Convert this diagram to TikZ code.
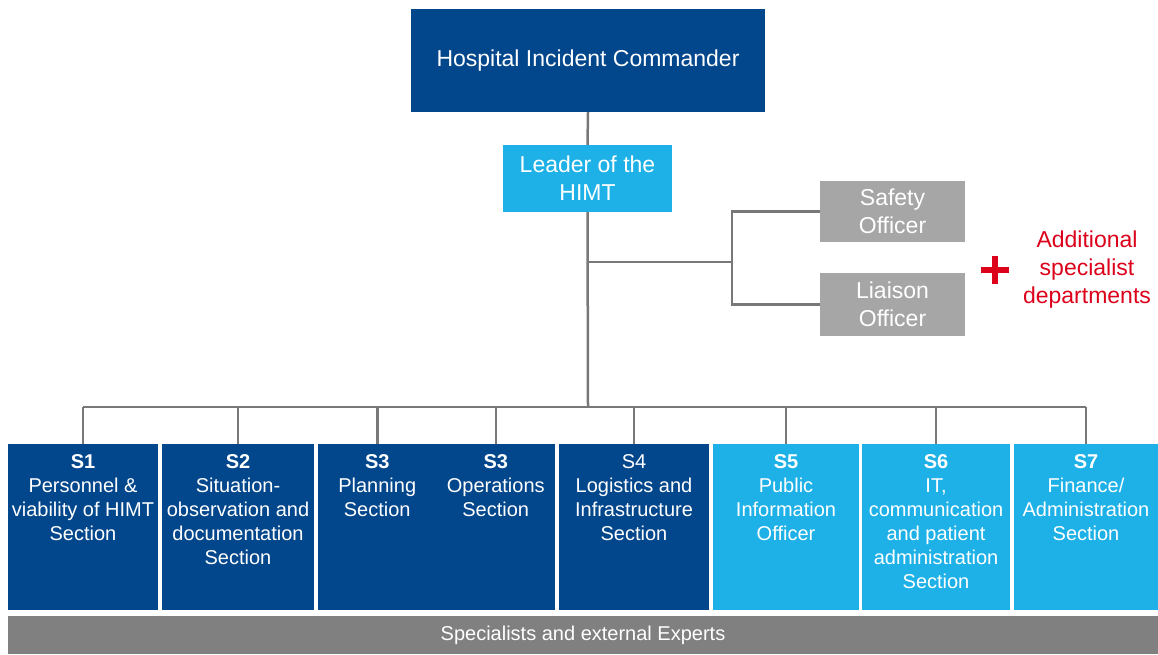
\documentclass[tikz,border=0pt]{standalone}
\usepackage{fontspec}
\setmainfont{Liberation Sans}
\definecolor{dblue}{RGB}{2,70,140}
\definecolor{lblue}{RGB}{29,177,232}
\definecolor{boxgray}{RGB}{166,166,166}
\definecolor{bargray}{RGB}{128,128,128}
\definecolor{linegray}{RGB}{120,120,120}
\definecolor{addred}{RGB}{220,0,26}
\newcommand\secttxt[2]{\parbox[t][166pt][t]{#1}{\centering\vspace*{8pt}\strut #2\par}}
\begin{document}
\begin{tikzpicture}[x=1pt,y=-1pt,
  topbox/.style={fill=#1, text=white, inner sep=0pt, align=center,
    font=\fontsize{23}{28}\selectfont},
  sectbox/.style={fill=#1, text=white, inner sep=0pt,
    font=\fontsize{20}{24}\selectfont},
  conn/.style={draw=linegray, line width=2.5pt}]
\useasboundingbox (0,0) rectangle (1158,654);
% top boxes
\node[topbox=dblue, minimum width=354pt, minimum height=103pt] (hic) at (588,60.5) {Hospital Incident Commander};
\node[topbox=lblue, minimum width=169pt, minimum height=67pt] (lead) at (587.5,178.5) {Leader of the\\HIMT};
\node[topbox=boxgray, minimum width=145pt, minimum height=61pt] (safety) at (892.5,211.5) {Safety\\Officer};
\node[topbox=boxgray, minimum width=145pt, minimum height=63pt] (liaison) at (892.5,304.5) {Liaison\\Officer};
\node[text=addred, align=center, inner sep=0pt, font=\fontsize{23}{28}\selectfont] (add) at (1087,270) {Additional\\specialist\\departments};
% sections
\node[sectbox=dblue] (s1) at (83,527) {\secttxt{150pt}{\textbf{S1}\\Personnel \&\\viability of HIMT\\Section}};
\node[sectbox=dblue] (s2) at (238,527) {\secttxt{152pt}{\textbf{S2}\\Situation-\\observation and\\documentation\\Section}};
\node[sectbox=dblue] (s3a) at (377.25,527) {\secttxt{118.5pt}{\textbf{S3}\\Planning\\Section}};
\node[sectbox=dblue] (s3b) at (495.75,527) {\secttxt{118.5pt}{\textbf{S3}\\Operations\\Section}};
\node[sectbox=dblue] (s4) at (634,527) {\secttxt{150pt}{S4\\Logistics and\\Infrastructure\\Section}};
\node[sectbox=lblue] (s5) at (786,527) {\secttxt{146pt}{\textbf{S5}\\Public\\Information\\Officer}};
\node[sectbox=lblue] (s6) at (936,527) {\secttxt{148pt}{\textbf{S6}\\IT,\\communication\\and patient\\administration\\Section}};
\node[sectbox=lblue] (s7) at (1086,527) {\secttxt{144pt}{\textbf{S7}\\Finance/\\Administration\\Section}};
\node[fill=bargray, text=white, inner sep=0pt, minimum width=1150pt, minimum height=38pt,
  font=\fontsize{20}{24}\selectfont] (bar) at (583,635) {Specialists and external Experts};
% connectors
\coordinate (bus) at (588,407);
\coordinate (brk) at (732,262);
\draw[conn] (hic.south) -- (lead.north);
\draw[conn] (lead.south) -- (bus);
\draw[conn] (brk -| lead.south) -- (brk);
\draw[conn] (safety.west) -| (brk) |- (liaison.west);
\draw[conn] (s1.north |- bus) -- (s7.north |- bus);
\foreach \s in {s1,s2,s3a,s3b,s4,s5,s6,s7}
  \draw[conn] (\s.north |- bus) -- (\s.north);
% red plus
\draw[addred, line width=6pt] (981,270) -- (1009,270) (995,256) -- (995,284);
\end{tikzpicture}
\end{document}
